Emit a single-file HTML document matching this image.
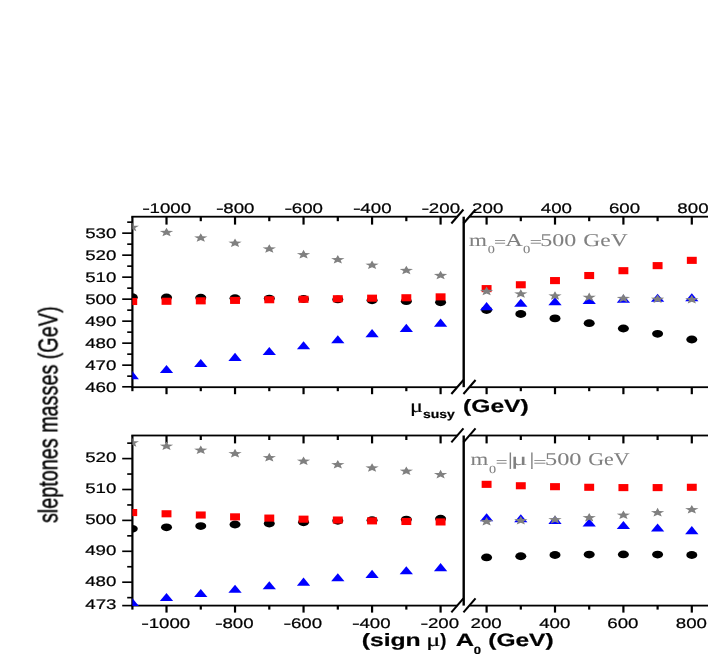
<!DOCTYPE html>
<html><head><meta charset="utf-8"><title>sleptones masses</title>
<style>
html,body{margin:0;padding:0;background:#fff;}
body{width:708px;height:654px;overflow:hidden;font-family:"Liberation Sans",sans-serif;}
svg{display:block;}
</style></head><body>
<svg width="708" height="654" viewBox="0 0 708 654">
<rect x="0" y="0" width="708" height="654" fill="#fff"/>
<g fill="#000">
<rect x="131.30" y="215.80" width="326.10" height="1.80"/>
<rect x="469.50" y="215.80" width="238.50" height="1.80"/>
<rect x="131.30" y="386.30" width="326.10" height="1.80"/>
<rect x="469.50" y="386.30" width="238.50" height="1.80"/>
<rect x="131.30" y="216.70" width="2.20" height="174.50"/>
<rect x="462.50" y="216.70" width="2.40" height="170.50"/>
<rect x="131.30" y="434.60" width="326.10" height="1.80"/>
<rect x="469.50" y="434.60" width="238.50" height="1.80"/>
<rect x="131.30" y="604.70" width="326.10" height="1.80"/>
<rect x="469.50" y="604.70" width="238.50" height="1.80"/>
<rect x="131.30" y="435.50" width="2.20" height="174.10"/>
<rect x="462.50" y="435.50" width="2.40" height="170.10"/>
<rect x="165.41" y="216.70" width="2.20" height="7.90"/>
<rect x="199.67" y="216.70" width="2.20" height="4.50"/>
<rect x="233.93" y="216.70" width="2.20" height="7.90"/>
<rect x="268.19" y="216.70" width="2.20" height="4.50"/>
<rect x="302.45" y="216.70" width="2.20" height="7.90"/>
<rect x="336.71" y="216.70" width="2.20" height="4.50"/>
<rect x="370.97" y="216.70" width="2.20" height="7.90"/>
<rect x="405.23" y="216.70" width="2.20" height="4.50"/>
<rect x="439.49" y="216.70" width="2.20" height="7.90"/>
<rect x="485.50" y="216.70" width="2.20" height="7.90"/>
<rect x="519.70" y="216.70" width="2.20" height="4.50"/>
<rect x="553.90" y="216.70" width="2.20" height="7.90"/>
<rect x="588.10" y="216.70" width="2.20" height="4.50"/>
<rect x="622.30" y="216.70" width="2.20" height="7.90"/>
<rect x="656.50" y="216.70" width="2.20" height="4.50"/>
<rect x="690.70" y="216.70" width="2.20" height="7.90"/>
<rect x="165.41" y="387.20" width="2.20" height="7.00"/>
<rect x="199.67" y="387.20" width="2.20" height="4.00"/>
<rect x="233.93" y="387.20" width="2.20" height="7.00"/>
<rect x="268.19" y="387.20" width="2.20" height="4.00"/>
<rect x="302.45" y="387.20" width="2.20" height="7.00"/>
<rect x="336.71" y="387.20" width="2.20" height="4.00"/>
<rect x="370.97" y="387.20" width="2.20" height="7.00"/>
<rect x="405.23" y="387.20" width="2.20" height="4.00"/>
<rect x="439.49" y="387.20" width="2.20" height="7.00"/>
<rect x="485.50" y="387.20" width="2.20" height="7.00"/>
<rect x="519.70" y="387.20" width="2.20" height="4.00"/>
<rect x="553.90" y="387.20" width="2.20" height="7.00"/>
<rect x="588.10" y="387.20" width="2.20" height="4.00"/>
<rect x="622.30" y="387.20" width="2.20" height="7.00"/>
<rect x="656.50" y="387.20" width="2.20" height="4.00"/>
<rect x="690.70" y="387.20" width="2.20" height="7.00"/>
<rect x="165.41" y="435.50" width="2.20" height="7.90"/>
<rect x="199.67" y="435.50" width="2.20" height="4.50"/>
<rect x="233.93" y="435.50" width="2.20" height="7.90"/>
<rect x="268.19" y="435.50" width="2.20" height="4.50"/>
<rect x="302.45" y="435.50" width="2.20" height="7.90"/>
<rect x="336.71" y="435.50" width="2.20" height="4.50"/>
<rect x="370.97" y="435.50" width="2.20" height="7.90"/>
<rect x="405.23" y="435.50" width="2.20" height="4.50"/>
<rect x="439.49" y="435.50" width="2.20" height="7.90"/>
<rect x="485.50" y="435.50" width="2.20" height="7.90"/>
<rect x="519.70" y="435.50" width="2.20" height="4.50"/>
<rect x="553.90" y="435.50" width="2.20" height="7.90"/>
<rect x="588.10" y="435.50" width="2.20" height="4.50"/>
<rect x="622.30" y="435.50" width="2.20" height="7.90"/>
<rect x="656.50" y="435.50" width="2.20" height="4.50"/>
<rect x="690.70" y="435.50" width="2.20" height="7.90"/>
<rect x="165.41" y="605.60" width="2.20" height="7.00"/>
<rect x="199.67" y="605.60" width="2.20" height="4.00"/>
<rect x="233.93" y="605.60" width="2.20" height="7.00"/>
<rect x="268.19" y="605.60" width="2.20" height="4.00"/>
<rect x="302.45" y="605.60" width="2.20" height="7.00"/>
<rect x="336.71" y="605.60" width="2.20" height="4.00"/>
<rect x="370.97" y="605.60" width="2.20" height="7.00"/>
<rect x="405.23" y="605.60" width="2.20" height="4.00"/>
<rect x="439.49" y="605.60" width="2.20" height="7.00"/>
<rect x="485.50" y="605.60" width="2.20" height="7.00"/>
<rect x="519.70" y="605.60" width="2.20" height="4.00"/>
<rect x="553.90" y="605.60" width="2.20" height="7.00"/>
<rect x="588.10" y="605.60" width="2.20" height="4.00"/>
<rect x="622.30" y="605.60" width="2.20" height="7.00"/>
<rect x="656.50" y="605.60" width="2.20" height="4.00"/>
<rect x="690.70" y="605.60" width="2.20" height="7.00"/>
<rect x="122.20" y="385.98" width="10.20" height="1.65"/>
<rect x="127.20" y="375.33" width="5.20" height="1.65"/>
<rect x="122.20" y="364.33" width="10.20" height="1.65"/>
<rect x="127.20" y="353.33" width="5.20" height="1.65"/>
<rect x="122.20" y="342.33" width="10.20" height="1.65"/>
<rect x="127.20" y="331.33" width="5.20" height="1.65"/>
<rect x="122.20" y="320.33" width="10.20" height="1.65"/>
<rect x="127.20" y="309.33" width="5.20" height="1.65"/>
<rect x="122.20" y="298.33" width="10.20" height="1.65"/>
<rect x="127.20" y="287.33" width="5.20" height="1.65"/>
<rect x="122.20" y="276.33" width="10.20" height="1.65"/>
<rect x="127.20" y="265.33" width="5.20" height="1.65"/>
<rect x="122.20" y="254.33" width="10.20" height="1.65"/>
<rect x="127.20" y="243.33" width="5.20" height="1.65"/>
<rect x="122.20" y="232.33" width="10.20" height="1.65"/>
<rect x="127.20" y="221.33" width="5.20" height="1.65"/>
<rect x="122.20" y="604.77" width="10.20" height="1.65"/>
<rect x="127.20" y="596.82" width="5.20" height="1.65"/>
<rect x="122.20" y="581.37" width="10.20" height="1.65"/>
<rect x="127.20" y="565.92" width="5.20" height="1.65"/>
<rect x="122.20" y="550.47" width="10.20" height="1.65"/>
<rect x="127.20" y="535.02" width="5.20" height="1.65"/>
<rect x="122.20" y="519.57" width="10.20" height="1.65"/>
<rect x="127.20" y="504.12" width="5.20" height="1.65"/>
<rect x="122.20" y="488.68" width="10.20" height="1.65"/>
<rect x="127.20" y="473.22" width="5.20" height="1.65"/>
<rect x="122.20" y="457.77" width="10.20" height="1.65"/>
<rect x="127.20" y="442.32" width="5.20" height="1.65"/>
</g>
<g stroke="#000" stroke-width="2.05" fill="none">
<line x1="451.35" y1="223.50" x2="463.45" y2="209.50"/>
<line x1="463.45" y1="223.50" x2="475.55" y2="209.50"/>
<line x1="451.35" y1="394.00" x2="463.45" y2="380.00"/>
<line x1="463.45" y1="394.00" x2="475.55" y2="380.00"/>
<line x1="451.35" y1="442.30" x2="463.45" y2="428.30"/>
<line x1="463.45" y1="442.30" x2="475.55" y2="428.30"/>
<line x1="451.35" y1="612.40" x2="463.45" y2="598.40"/>
<line x1="463.45" y1="612.40" x2="475.55" y2="598.40"/>
</g>
<clipPath id="c1"><rect x="132.4" y="206.7" width="575.6" height="190.5"/></clipPath>
<g clip-path="url(#c1)">
<g fill="#000">
<ellipse cx="132.25" cy="297.26" rx="5.5" ry="3.9"/>
<ellipse cx="166.51" cy="297.48" rx="5.5" ry="3.9"/>
<ellipse cx="200.77" cy="297.70" rx="5.5" ry="3.9"/>
<ellipse cx="235.03" cy="298.14" rx="5.5" ry="3.9"/>
<ellipse cx="269.29" cy="298.58" rx="5.5" ry="3.9"/>
<ellipse cx="303.55" cy="299.02" rx="5.5" ry="3.9"/>
<ellipse cx="337.81" cy="299.46" rx="5.5" ry="3.9"/>
<ellipse cx="372.07" cy="300.34" rx="5.5" ry="3.9"/>
<ellipse cx="406.33" cy="301.22" rx="5.5" ry="3.9"/>
<ellipse cx="440.59" cy="302.32" rx="5.5" ry="3.9"/>
<ellipse cx="486.60" cy="310.02" rx="5.5" ry="3.9"/>
<ellipse cx="520.80" cy="313.98" rx="5.5" ry="3.9"/>
<ellipse cx="555.00" cy="318.38" rx="5.5" ry="3.9"/>
<ellipse cx="589.20" cy="323.22" rx="5.5" ry="3.9"/>
<ellipse cx="623.40" cy="328.50" rx="5.5" ry="3.9"/>
<ellipse cx="657.60" cy="333.78" rx="5.5" ry="3.9"/>
<ellipse cx="691.80" cy="339.50" rx="5.5" ry="3.9"/>
</g><g fill="#ff0000">
<rect x="127.30" y="297.94" width="9.9" height="7.1"/>
<rect x="161.56" y="297.72" width="9.9" height="7.1"/>
<rect x="195.82" y="297.28" width="9.9" height="7.1"/>
<rect x="230.08" y="296.84" width="9.9" height="7.1"/>
<rect x="264.34" y="296.18" width="9.9" height="7.1"/>
<rect x="298.60" y="295.74" width="9.9" height="7.1"/>
<rect x="332.86" y="295.19" width="9.9" height="7.1"/>
<rect x="367.12" y="294.64" width="9.9" height="7.1"/>
<rect x="401.38" y="294.20" width="9.9" height="7.1"/>
<rect x="435.64" y="293.32" width="9.9" height="7.1"/>
<rect x="481.65" y="285.07" width="9.9" height="7.1"/>
<rect x="515.85" y="281.22" width="9.9" height="7.1"/>
<rect x="550.05" y="277.04" width="9.9" height="7.1"/>
<rect x="584.25" y="271.98" width="9.9" height="7.1"/>
<rect x="618.45" y="267.14" width="9.9" height="7.1"/>
<rect x="652.65" y="262.08" width="9.9" height="7.1"/>
<rect x="686.85" y="256.80" width="9.9" height="7.1"/>
</g><g fill="#0000ff">
<polygon points="125.60,379.21 138.90,379.21 132.25,371.11"/>
<polygon points="159.86,373.05 173.16,373.05 166.51,364.95"/>
<polygon points="194.12,367.11 207.42,367.11 200.77,359.01"/>
<polygon points="228.38,360.95 241.68,360.95 235.03,352.85"/>
<polygon points="262.64,355.01 275.94,355.01 269.29,346.91"/>
<polygon points="296.90,349.29 310.20,349.29 303.55,341.19"/>
<polygon points="331.16,343.35 344.46,343.35 337.81,335.25"/>
<polygon points="365.42,337.19 378.72,337.19 372.07,329.09"/>
<polygon points="399.68,331.91 412.98,331.91 406.33,323.81"/>
<polygon points="433.94,326.63 447.24,326.63 440.59,318.53"/>
<polygon points="479.95,310.13 493.25,310.13 486.60,302.03"/>
<polygon points="514.15,306.83 527.45,306.83 520.80,298.73"/>
<polygon points="548.35,305.29 561.65,305.29 555.00,297.19"/>
<polygon points="582.55,303.97 595.85,303.97 589.20,295.87"/>
<polygon points="616.75,302.87 630.05,302.87 623.40,294.77"/>
<polygon points="650.95,301.77 664.25,301.77 657.60,293.67"/>
<polygon points="685.15,301.33 698.45,301.33 691.80,293.23"/>
</g><g fill="#808080">
<polygon points="132.25,222.58 134.03,225.68 138.94,225.86 135.12,227.96 136.38,231.17 132.25,229.37 128.12,231.17 129.38,227.96 125.56,225.86 130.47,225.68"/>
<polygon points="166.51,227.64 168.29,230.74 173.20,230.92 169.38,233.02 170.64,236.23 166.51,234.43 162.38,236.23 163.64,233.02 159.82,230.92 164.73,230.74"/>
<polygon points="200.77,233.14 202.55,236.24 207.46,236.42 203.64,238.52 204.90,241.73 200.77,239.93 196.64,241.73 197.90,238.52 194.08,236.42 198.99,236.24"/>
<polygon points="235.03,238.42 236.81,241.52 241.72,241.70 237.90,243.80 239.16,247.01 235.03,245.21 230.90,247.01 232.16,243.80 228.34,241.70 233.25,241.52"/>
<polygon points="269.29,244.14 271.07,247.24 275.98,247.42 272.16,249.52 273.42,252.73 269.29,250.93 265.16,252.73 266.42,249.52 262.60,247.42 267.51,247.24"/>
<polygon points="303.55,249.86 305.33,252.96 310.24,253.14 306.42,255.24 307.68,258.45 303.55,256.65 299.42,258.45 300.68,255.24 296.86,253.14 301.77,252.96"/>
<polygon points="337.81,254.92 339.59,258.02 344.50,258.20 340.68,260.30 341.94,263.51 337.81,261.71 333.68,263.51 334.94,260.30 331.12,258.20 336.03,258.02"/>
<polygon points="372.07,260.42 373.85,263.52 378.76,263.70 374.94,265.80 376.20,269.01 372.07,267.21 367.94,269.01 369.20,265.80 365.38,263.70 370.29,263.52"/>
<polygon points="406.33,265.70 408.11,268.80 413.02,268.98 409.20,271.08 410.46,274.29 406.33,272.49 402.20,274.29 403.46,271.08 399.64,268.98 404.55,268.80"/>
<polygon points="440.59,270.76 442.37,273.86 447.28,274.04 443.46,276.14 444.72,279.35 440.59,277.55 436.46,279.35 437.72,276.14 433.90,274.04 438.81,273.86"/>
<polygon points="486.60,286.60 488.38,289.70 493.29,289.88 489.47,291.98 490.73,295.19 486.60,293.39 482.47,295.19 483.73,291.98 479.91,289.88 484.82,289.70"/>
<polygon points="520.80,289.24 522.58,292.34 527.49,292.52 523.67,294.62 524.93,297.83 520.80,296.03 516.67,297.83 517.93,294.62 514.11,292.52 519.02,292.34"/>
<polygon points="555.00,291.22 556.78,294.32 561.69,294.50 557.87,296.60 559.13,299.81 555.00,298.01 550.87,299.81 552.13,296.60 548.31,294.50 553.22,294.32"/>
<polygon points="589.20,292.54 590.98,295.64 595.89,295.82 592.07,297.92 593.33,301.13 589.20,299.33 585.07,301.13 586.33,297.92 582.51,295.82 587.42,295.64"/>
<polygon points="623.40,293.64 625.18,296.74 630.09,296.92 626.27,299.02 627.53,302.23 623.40,300.43 619.27,302.23 620.53,299.02 616.71,296.92 621.62,296.74"/>
<polygon points="657.60,294.52 659.38,297.62 664.29,297.80 660.47,299.90 661.73,303.11 657.60,301.31 653.47,303.11 654.73,299.90 650.91,297.80 655.82,297.62"/>
<polygon points="691.80,294.96 693.58,298.06 698.49,298.24 694.67,300.34 695.93,303.55 691.80,301.75 687.67,303.55 688.93,300.34 685.11,298.24 690.02,298.06"/>
</g></g>
<clipPath id="c2"><rect x="132.4" y="425.5" width="575.6" height="190.10000000000002"/></clipPath>
<g clip-path="url(#c2)">
<g fill="#000">
<ellipse cx="132.25" cy="528.82" rx="5.5" ry="3.9"/>
<ellipse cx="166.51" cy="527.28" rx="5.5" ry="3.9"/>
<ellipse cx="200.77" cy="526.05" rx="5.5" ry="3.9"/>
<ellipse cx="235.03" cy="524.51" rx="5.5" ry="3.9"/>
<ellipse cx="269.29" cy="523.59" rx="5.5" ry="3.9"/>
<ellipse cx="303.55" cy="522.36" rx="5.5" ry="3.9"/>
<ellipse cx="337.81" cy="520.82" rx="5.5" ry="3.9"/>
<ellipse cx="372.07" cy="520.20" rx="5.5" ry="3.9"/>
<ellipse cx="406.33" cy="519.58" rx="5.5" ry="3.9"/>
<ellipse cx="440.59" cy="518.66" rx="5.5" ry="3.9"/>
<ellipse cx="486.60" cy="557.47" rx="5.5" ry="3.9"/>
<ellipse cx="520.80" cy="556.24" rx="5.5" ry="3.9"/>
<ellipse cx="555.00" cy="555.00" rx="5.5" ry="3.9"/>
<ellipse cx="589.20" cy="554.54" rx="5.5" ry="3.9"/>
<ellipse cx="623.40" cy="554.39" rx="5.5" ry="3.9"/>
<ellipse cx="657.60" cy="554.54" rx="5.5" ry="3.9"/>
<ellipse cx="691.80" cy="555.00" rx="5.5" ry="3.9"/>
</g><g fill="#ff0000">
<rect x="127.30" y="509.00" width="9.9" height="7.1"/>
<rect x="161.56" y="510.23" width="9.9" height="7.1"/>
<rect x="195.82" y="511.46" width="9.9" height="7.1"/>
<rect x="230.08" y="513.31" width="9.9" height="7.1"/>
<rect x="264.34" y="514.54" width="9.9" height="7.1"/>
<rect x="298.60" y="515.62" width="9.9" height="7.1"/>
<rect x="332.86" y="516.48" width="9.9" height="7.1"/>
<rect x="367.12" y="517.32" width="9.9" height="7.1"/>
<rect x="401.38" y="517.93" width="9.9" height="7.1"/>
<rect x="435.64" y="518.39" width="9.9" height="7.1"/>
<rect x="481.65" y="480.79" width="9.9" height="7.1"/>
<rect x="515.85" y="482.20" width="9.9" height="7.1"/>
<rect x="550.05" y="483.13" width="9.9" height="7.1"/>
<rect x="584.25" y="483.74" width="9.9" height="7.1"/>
<rect x="618.45" y="484.05" width="9.9" height="7.1"/>
<rect x="652.65" y="484.05" width="9.9" height="7.1"/>
<rect x="686.85" y="483.74" width="9.9" height="7.1"/>
</g><g fill="#0000ff">
<polygon points="125.60,605.98 138.90,605.98 132.25,597.88"/>
<polygon points="159.86,601.05 173.16,601.05 166.51,592.95"/>
<polygon points="194.12,597.05 207.42,597.05 200.77,588.95"/>
<polygon points="228.38,592.73 241.68,592.73 235.03,584.63"/>
<polygon points="262.64,589.35 275.94,589.35 269.29,581.25"/>
<polygon points="296.90,585.65 310.20,585.65 303.55,577.55"/>
<polygon points="331.16,581.34 344.46,581.34 337.81,573.24"/>
<polygon points="365.42,577.95 378.72,577.95 372.07,569.85"/>
<polygon points="399.68,574.25 412.98,574.25 406.33,566.15"/>
<polygon points="433.94,571.17 447.24,571.17 440.59,563.07"/>
<polygon points="479.95,521.28 493.25,521.28 486.60,513.18"/>
<polygon points="514.15,522.33 527.45,522.33 520.80,514.23"/>
<polygon points="548.35,523.96 561.65,523.96 555.00,515.86"/>
<polygon points="582.55,526.51 595.85,526.51 589.20,518.41"/>
<polygon points="616.75,528.98 630.05,528.98 623.40,520.88"/>
<polygon points="650.95,531.57 664.25,531.57 657.60,523.47"/>
<polygon points="685.15,534.21 698.45,534.21 691.80,526.11"/>
</g><g fill="#808080">
<polygon points="132.25,438.08 134.03,441.18 138.94,441.37 135.12,443.47 136.38,446.68 132.25,444.88 128.12,446.68 129.38,443.47 125.56,441.37 130.47,441.18"/>
<polygon points="166.51,441.47 168.29,444.57 173.20,444.75 169.38,446.85 170.64,450.06 166.51,448.26 162.38,450.06 163.64,446.85 159.82,444.75 164.73,444.57"/>
<polygon points="200.77,445.48 202.55,448.57 207.46,448.76 203.64,450.86 204.90,454.07 200.77,452.27 196.64,454.07 197.90,450.86 194.08,448.76 198.99,448.57"/>
<polygon points="235.03,448.86 236.81,451.96 241.72,452.15 237.90,454.25 239.16,457.46 235.03,455.66 230.90,457.46 232.16,454.25 228.34,452.15 233.25,451.96"/>
<polygon points="269.29,452.87 271.07,455.97 275.98,456.15 272.16,458.25 273.42,461.46 269.29,459.66 265.16,461.46 266.42,458.25 262.60,456.15 267.51,455.97"/>
<polygon points="303.55,456.41 305.33,459.51 310.24,459.69 306.42,461.79 307.68,465.00 303.55,463.20 299.42,465.00 300.68,461.79 296.86,459.69 301.77,459.51"/>
<polygon points="337.81,459.95 339.59,463.05 344.50,463.23 340.68,465.33 341.94,468.54 337.81,466.74 333.68,468.54 334.94,465.33 331.12,463.23 336.03,463.05"/>
<polygon points="372.07,463.19 373.85,466.28 378.76,466.47 374.94,468.57 376.20,471.78 372.07,469.98 367.94,471.78 369.20,468.57 365.38,466.47 370.29,466.28"/>
<polygon points="406.33,466.42 408.11,469.52 413.02,469.70 409.20,471.80 410.46,475.01 406.33,473.21 402.20,475.01 403.46,471.80 399.64,469.70 404.55,469.52"/>
<polygon points="440.59,469.81 442.37,472.91 447.28,473.09 443.46,475.19 444.72,478.40 440.59,476.60 436.46,478.40 437.72,475.19 433.90,473.09 438.81,472.91"/>
<polygon points="486.60,516.93 488.38,520.03 493.29,520.21 489.47,522.31 490.73,525.52 486.60,523.72 482.47,525.52 483.73,522.31 479.91,520.21 484.82,520.03"/>
<polygon points="520.80,516.01 522.58,519.11 527.49,519.29 523.67,521.39 524.93,524.60 520.80,522.80 516.67,524.60 517.93,521.39 514.11,519.29 519.02,519.11"/>
<polygon points="555.00,514.93 556.78,518.03 561.69,518.21 557.87,520.31 559.13,523.52 555.00,521.72 550.87,523.52 552.13,520.31 548.31,518.21 553.22,518.03"/>
<polygon points="589.20,512.93 590.98,516.03 595.89,516.21 592.07,518.31 593.33,521.52 589.20,519.72 585.07,521.52 586.33,518.31 582.51,516.21 587.42,516.03"/>
<polygon points="623.40,510.46 625.18,513.56 630.09,513.75 626.27,515.85 627.53,519.06 623.40,517.26 619.27,519.06 620.53,515.85 616.71,513.75 621.62,513.56"/>
<polygon points="657.60,507.85 659.38,510.94 664.29,511.13 660.47,513.23 661.73,516.44 657.60,514.64 653.47,516.44 654.73,513.23 650.91,511.13 655.82,510.94"/>
<polygon points="691.80,504.92 693.58,508.02 698.49,508.20 694.67,510.30 695.93,513.51 691.80,511.71 687.67,513.51 688.93,510.30 685.11,508.20 690.02,508.02"/>
</g></g>
<g opacity="0.999" style="font-kerning:none;text-rendering:geometricPrecision">
<text transform="translate(149.58,212.60) scale(1.3350,1)" font-family="Liberation Sans" font-size="14.0" font-weight="normal" fill="#000" stroke="#000" stroke-width="0.22">1000</text>
<text transform="translate(142.16,212.60) scale(1.6568,1)" font-family="Liberation Sans" font-size="14.0" font-weight="normal" fill="#000" stroke="#000" stroke-width="0.22">-</text>
<text transform="translate(148.68,627.60) scale(1.3350,1)" font-family="Liberation Sans" font-size="14.0" font-weight="normal" fill="#000" stroke="#000" stroke-width="0.22">1000</text>
<text transform="translate(141.26,627.60) scale(1.6568,1)" font-family="Liberation Sans" font-size="14.0" font-weight="normal" fill="#000" stroke="#000" stroke-width="0.22">-</text>
<text transform="translate(223.30,212.60) scale(1.3350,1)" font-family="Liberation Sans" font-size="14.0" font-weight="normal" fill="#000" stroke="#000" stroke-width="0.22">800</text>
<text transform="translate(215.88,212.60) scale(1.6568,1)" font-family="Liberation Sans" font-size="14.0" font-weight="normal" fill="#000" stroke="#000" stroke-width="0.22">-</text>
<text transform="translate(222.40,627.60) scale(1.3350,1)" font-family="Liberation Sans" font-size="14.0" font-weight="normal" fill="#000" stroke="#000" stroke-width="0.22">800</text>
<text transform="translate(214.98,627.60) scale(1.6568,1)" font-family="Liberation Sans" font-size="14.0" font-weight="normal" fill="#000" stroke="#000" stroke-width="0.22">-</text>
<text transform="translate(291.82,212.60) scale(1.3350,1)" font-family="Liberation Sans" font-size="14.0" font-weight="normal" fill="#000" stroke="#000" stroke-width="0.22">600</text>
<text transform="translate(284.40,212.60) scale(1.6568,1)" font-family="Liberation Sans" font-size="14.0" font-weight="normal" fill="#000" stroke="#000" stroke-width="0.22">-</text>
<text transform="translate(290.92,627.60) scale(1.3350,1)" font-family="Liberation Sans" font-size="14.0" font-weight="normal" fill="#000" stroke="#000" stroke-width="0.22">600</text>
<text transform="translate(283.50,627.60) scale(1.6568,1)" font-family="Liberation Sans" font-size="14.0" font-weight="normal" fill="#000" stroke="#000" stroke-width="0.22">-</text>
<text transform="translate(360.34,212.60) scale(1.3350,1)" font-family="Liberation Sans" font-size="14.0" font-weight="normal" fill="#000" stroke="#000" stroke-width="0.22">400</text>
<text transform="translate(352.92,212.60) scale(1.6568,1)" font-family="Liberation Sans" font-size="14.0" font-weight="normal" fill="#000" stroke="#000" stroke-width="0.22">-</text>
<text transform="translate(359.44,627.60) scale(1.3350,1)" font-family="Liberation Sans" font-size="14.0" font-weight="normal" fill="#000" stroke="#000" stroke-width="0.22">400</text>
<text transform="translate(352.02,627.60) scale(1.6568,1)" font-family="Liberation Sans" font-size="14.0" font-weight="normal" fill="#000" stroke="#000" stroke-width="0.22">-</text>
<text transform="translate(428.86,212.60) scale(1.3350,1)" font-family="Liberation Sans" font-size="14.0" font-weight="normal" fill="#000" stroke="#000" stroke-width="0.22">200</text>
<text transform="translate(421.44,212.60) scale(1.6568,1)" font-family="Liberation Sans" font-size="14.0" font-weight="normal" fill="#000" stroke="#000" stroke-width="0.22">-</text>
<text transform="translate(427.96,627.60) scale(1.3350,1)" font-family="Liberation Sans" font-size="14.0" font-weight="normal" fill="#000" stroke="#000" stroke-width="0.22">200</text>
<text transform="translate(420.54,627.60) scale(1.6568,1)" font-family="Liberation Sans" font-size="14.0" font-weight="normal" fill="#000" stroke="#000" stroke-width="0.22">-</text>
<text transform="translate(472.10,212.60) scale(1.3350,1)" font-family="Liberation Sans" font-size="14.0" font-weight="normal" fill="#000" stroke="#000" stroke-width="0.22">200</text>
<text transform="translate(470.50,627.60) scale(1.3350,1)" font-family="Liberation Sans" font-size="14.0" font-weight="normal" fill="#000" stroke="#000" stroke-width="0.22">200</text>
<text transform="translate(540.76,212.60) scale(1.3350,1)" font-family="Liberation Sans" font-size="14.0" font-weight="normal" fill="#000" stroke="#000" stroke-width="0.22">400</text>
<text transform="translate(539.16,627.60) scale(1.3350,1)" font-family="Liberation Sans" font-size="14.0" font-weight="normal" fill="#000" stroke="#000" stroke-width="0.22">400</text>
<text transform="translate(608.90,212.60) scale(1.3350,1)" font-family="Liberation Sans" font-size="14.0" font-weight="normal" fill="#000" stroke="#000" stroke-width="0.22">600</text>
<text transform="translate(607.30,627.60) scale(1.3350,1)" font-family="Liberation Sans" font-size="14.0" font-weight="normal" fill="#000" stroke="#000" stroke-width="0.22">600</text>
<text transform="translate(677.37,212.60) scale(1.3350,1)" font-family="Liberation Sans" font-size="14.0" font-weight="normal" fill="#000" stroke="#000" stroke-width="0.22">800</text>
<text transform="translate(675.77,627.60) scale(1.3350,1)" font-family="Liberation Sans" font-size="14.0" font-weight="normal" fill="#000" stroke="#000" stroke-width="0.22">800</text>
<text transform="translate(85.15,391.70) scale(1.3350,1)" font-family="Liberation Sans" font-size="14.0" font-weight="normal" fill="#000" stroke="#000" stroke-width="0.22">460</text>
<text transform="translate(85.15,369.70) scale(1.3350,1)" font-family="Liberation Sans" font-size="14.0" font-weight="normal" fill="#000" stroke="#000" stroke-width="0.22">470</text>
<text transform="translate(85.15,347.70) scale(1.3350,1)" font-family="Liberation Sans" font-size="14.0" font-weight="normal" fill="#000" stroke="#000" stroke-width="0.22">480</text>
<text transform="translate(85.15,325.70) scale(1.3350,1)" font-family="Liberation Sans" font-size="14.0" font-weight="normal" fill="#000" stroke="#000" stroke-width="0.22">490</text>
<text transform="translate(85.15,303.70) scale(1.3350,1)" font-family="Liberation Sans" font-size="14.0" font-weight="normal" fill="#000" stroke="#000" stroke-width="0.22">500</text>
<text transform="translate(85.15,281.70) scale(1.3350,1)" font-family="Liberation Sans" font-size="14.0" font-weight="normal" fill="#000" stroke="#000" stroke-width="0.22">510</text>
<text transform="translate(85.15,259.70) scale(1.3350,1)" font-family="Liberation Sans" font-size="14.0" font-weight="normal" fill="#000" stroke="#000" stroke-width="0.22">520</text>
<text transform="translate(85.15,237.70) scale(1.3350,1)" font-family="Liberation Sans" font-size="14.0" font-weight="normal" fill="#000" stroke="#000" stroke-width="0.22">530</text>
<text transform="translate(85.24,609.40) scale(1.3350,1)" font-family="Liberation Sans" font-size="14.0" font-weight="normal" fill="#000" stroke="#000" stroke-width="0.22">473</text>
<text transform="translate(85.15,586.00) scale(1.3350,1)" font-family="Liberation Sans" font-size="14.0" font-weight="normal" fill="#000" stroke="#000" stroke-width="0.22">480</text>
<text transform="translate(85.15,555.10) scale(1.3350,1)" font-family="Liberation Sans" font-size="14.0" font-weight="normal" fill="#000" stroke="#000" stroke-width="0.22">490</text>
<text transform="translate(85.15,524.20) scale(1.3350,1)" font-family="Liberation Sans" font-size="14.0" font-weight="normal" fill="#000" stroke="#000" stroke-width="0.22">500</text>
<text transform="translate(85.15,493.30) scale(1.3350,1)" font-family="Liberation Sans" font-size="14.0" font-weight="normal" fill="#000" stroke="#000" stroke-width="0.22">510</text>
<text transform="translate(85.15,462.40) scale(1.3350,1)" font-family="Liberation Sans" font-size="14.0" font-weight="normal" fill="#000" stroke="#000" stroke-width="0.22">520</text>
<text transform="translate(57.2,414.7) rotate(-90) scale(1,1.38)" font-family="Liberation Sans" font-size="19.8" text-anchor="middle" fill="#000" stroke="#000" stroke-width="0.3">sleptones masses (GeV)</text>
<text transform="translate(410.04,412.40) scale(1.3055,1)" font-family="Liberation Serif" font-size="18.5" font-weight="normal" fill="#000" stroke="#000" stroke-width="0.22">μ</text>
<text transform="translate(423.01,418.00) scale(1.2157,1)" font-family="Liberation Sans" font-size="11.5" font-weight="bold" fill="#000" stroke="#000" stroke-width="0.22">susy</text>
<text transform="translate(463.07,411.60) scale(1.3829,1)" font-family="Liberation Sans" font-size="17.8" font-weight="bold" fill="#000" stroke="#000" stroke-width="0.22">(GeV)</text>
<text transform="translate(361.67,645.90) scale(1.3892,1)" font-family="Liberation Sans" font-size="17.8" font-weight="bold" fill="#000" stroke="#000" stroke-width="0.22">(sign</text>
<text transform="translate(426.37,645.90) scale(1.4229,1)" font-family="Liberation Serif" font-size="18.5" font-weight="normal" fill="#000" stroke="#000" stroke-width="0.22">μ</text>
<text transform="translate(440.28,645.90) scale(1.0351,1)" font-family="Liberation Sans" font-size="17.8" font-weight="bold" fill="#000" stroke="#000" stroke-width="0.22">)</text>
<text transform="translate(455.77,645.90) scale(1.4235,1)" font-family="Liberation Sans" font-size="17.8" font-weight="bold" fill="#000" stroke="#000" stroke-width="0.22">A</text>
<text transform="translate(473.68,653.50) scale(1.2416,1)" font-family="Liberation Sans" font-size="10.5" font-weight="bold" fill="#000" stroke="#000" stroke-width="0.22">0</text>
<text transform="translate(488.28,645.90) scale(1.3764,1)" font-family="Liberation Sans" font-size="17.8" font-weight="bold" fill="#000" stroke="#000" stroke-width="0.22">(GeV)</text>
<text transform="translate(469.02,245.70) scale(1.2817,1)" font-family="Liberation Serif" font-size="18.0" font-weight="normal" fill="#808080" stroke="#808080" stroke-width="0.06">m</text>
<text transform="translate(487.66,252.90) scale(1.2870,1)" font-family="Liberation Serif" font-size="11.0" font-weight="normal" fill="#808080" stroke="#808080" stroke-width="0.06">0</text>
<text transform="translate(493.93,246.00) scale(1.1939,0.7)" font-family="Liberation Serif" font-size="18.0" font-weight="normal" fill="#808080" stroke="#808080" stroke-width="0.06">=</text>
<text transform="translate(505.26,245.70) scale(1.3474,1)" font-family="Liberation Serif" font-size="18.0" font-weight="normal" fill="#808080" stroke="#808080" stroke-width="0.06">A</text>
<text transform="translate(523.04,252.90) scale(1.3299,1)" font-family="Liberation Serif" font-size="11.0" font-weight="normal" fill="#808080" stroke="#808080" stroke-width="0.06">0</text>
<text transform="translate(529.73,246.00) scale(1.1939,0.7)" font-family="Liberation Serif" font-size="18.0" font-weight="normal" fill="#808080" stroke="#808080" stroke-width="0.06">=</text>
<text transform="translate(540.21,245.70) scale(1.3337,1)" font-family="Liberation Serif" font-size="18.0" font-weight="normal" fill="#808080" stroke="#808080" stroke-width="0.06">500</text>
<text transform="translate(583.34,245.70) scale(1.3042,1)" font-family="Liberation Serif" font-size="18.0" font-weight="normal" fill="#808080" stroke="#808080" stroke-width="0.06">GeV</text>
<text transform="translate(470.42,465.20) scale(1.2667,1)" font-family="Liberation Serif" font-size="18.0" font-weight="normal" fill="#808080" stroke="#808080" stroke-width="0.06">m</text>
<text transform="translate(489.06,472.80) scale(1.2870,1)" font-family="Liberation Serif" font-size="11.0" font-weight="normal" fill="#808080" stroke="#808080" stroke-width="0.06">0</text>
<text transform="translate(495.66,465.50) scale(1.1581,0.7)" font-family="Liberation Serif" font-size="18.0" font-weight="normal" fill="#808080" stroke="#808080" stroke-width="0.06">=</text>
<text transform="translate(507.74,465.20) scale(1.4501,1)" font-family="Liberation Serif" font-size="18.0" font-weight="normal" fill="#808080" stroke="#808080" stroke-width="0.06">|</text>
<text transform="translate(511.11,465.20) scale(1.7040,1)" font-family="Liberation Serif" font-size="18.0" font-weight="normal" fill="#808080" stroke="#808080" stroke-width="0.06">μ</text>
<text transform="translate(529.34,465.20) scale(1.4501,1)" font-family="Liberation Serif" font-size="18.0" font-weight="normal" fill="#808080" stroke="#808080" stroke-width="0.06">|</text>
<text transform="translate(533.23,465.50) scale(1.3013,0.7)" font-family="Liberation Serif" font-size="18.0" font-weight="normal" fill="#808080" stroke="#808080" stroke-width="0.06">=</text>
<text transform="translate(544.98,465.20) scale(1.3535,1)" font-family="Liberation Serif" font-size="18.0" font-weight="normal" fill="#808080" stroke="#808080" stroke-width="0.06">500</text>
<text transform="translate(588.20,465.20) scale(1.2195,1)" font-family="Liberation Serif" font-size="18.0" font-weight="normal" fill="#808080" stroke="#808080" stroke-width="0.06">GeV</text>
</g>
</svg>
</body></html>
